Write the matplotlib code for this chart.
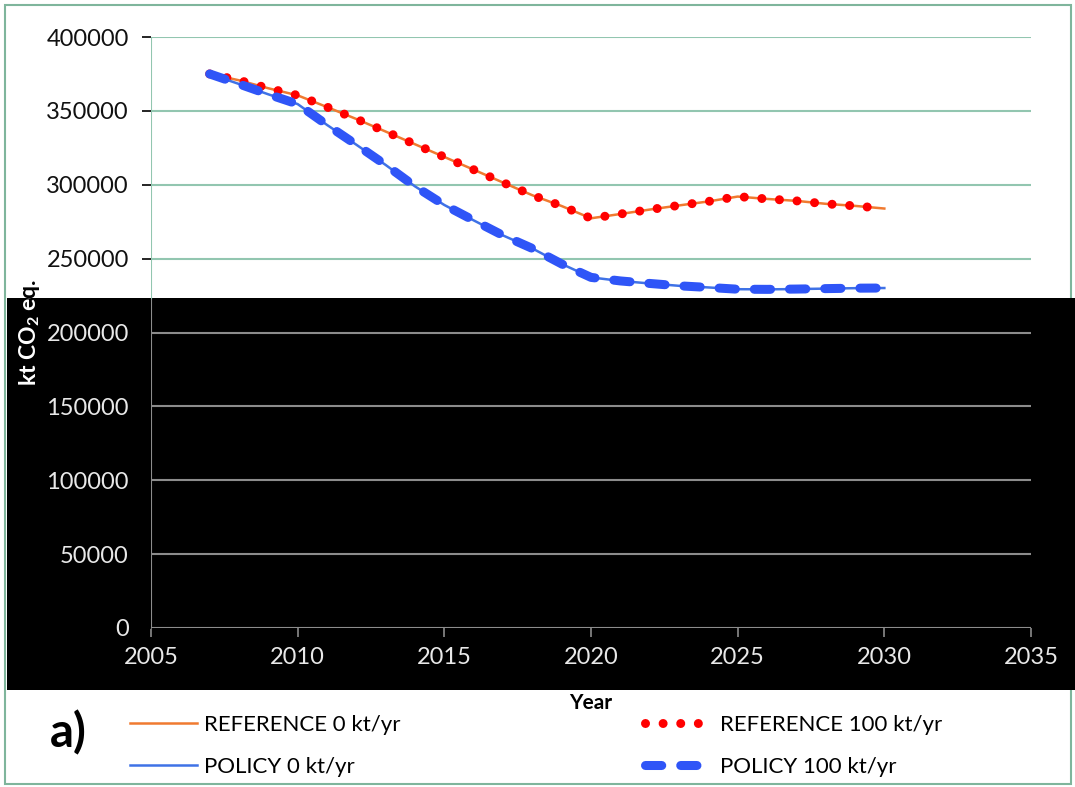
'''
Emissions pathways, REFERENCE vs POLICY (kt CO2 eq.)
'''
import matplotlib
matplotlib.use('Agg')
import matplotlib.pyplot as plt
from matplotlib.patches import Rectangle

plt.rcParams['font.family'] = ['Lato', 'DejaVu Sans']
plt.rcParams['mathtext.fontset'] = 'custom'
plt.rcParams['mathtext.rm'] = 'Lato'
plt.rcParams['mathtext.bf'] = 'Lato:bold'

years = list(range(2007, 2031))
reference_0 = [375000, 370700, 365300, 360500, 352600, 344500, 336000, 327400,
               318800, 310200, 301500, 292900, 285600, 277300, 280200, 283200,
               286000, 288700, 292000, 290400, 289100, 287100, 285700, 283900]
reference_100 = list(reference_0)
policy_0 = [375000, 368200, 361200, 354600, 340500, 327100, 313400, 298900,
            286300, 275900, 265700, 256900, 246400, 237300, 234900, 233200,
            231600, 230500, 229300, 229200, 229400, 229700, 230000, 230100]
policy_100 = list(policy_0)

yticks = [0, 50000, 100000, 150000, 200000, 250000, 300000, 350000, 400000]
xticks = [2005, 2010, 2015, 2020, 2025, 2030, 2035]

W, H = 1075, 787
green = '#92c6b0'
grey = '#8c8c8c'

fig = plt.figure(figsize=(W / 100, H / 100), dpi=100)
fig.patch.set_facecolor('white')

# outer frame and the black band across the lower half
fig.patches.append(Rectangle((5 / W, 1 - 784 / H), 1066 / W, 779 / H, transform=fig.transFigure,
                             fill=False, ec='#7fb59c', lw=1.5, zorder=-2))
band_y0, band_y1 = 1 - 690 / H, 1 - 298 / H
fig.patches.append(Rectangle((7 / W, band_y0), 1 - 7 / W, band_y1 - band_y0,
                             transform=fig.transFigure, fc='black', ec='none', zorder=-1))

ax_b, ax_t = 1 - 628 / H, 1 - 37 / H
ax = fig.add_axes([151 / W, ax_b, 880 / W, ax_t - ax_b])
ax.set_facecolor('none')
ax.set_xlim(2005, 2035)
ax.set_ylim(0, 400000)

frac = (band_y1 - ax_b) / (ax_t - ax_b)
cut = frac * 400000

for v in yticks:
    ax.axhline(v, color=green if v > cut else grey, lw=1.5, zorder=1)
ax.axvline(2005, ymin=0, ymax=frac, color=grey, lw=1.5, zorder=1)
ax.axvline(2005, ymin=frac, ymax=1, color=green, lw=1.5, zorder=1)
for s in ax.spines.values():
    s.set_visible(False)

ax.set_yticks(yticks)
ax.set_yticklabels([str(v) for v in yticks])
ax.set_xticks(xticks)
ax.set_xticklabels([str(v) for v in xticks])
ax.tick_params(axis='both', labelsize=17, direction='out', length=6.5, width=1.2)
ax.tick_params(axis='y', pad=9.5)
ax.tick_params(axis='x', pad=7, colors=grey, labelcolor='#e8e8e8')
for v, t, lab in zip(yticks, ax.yaxis.get_major_ticks(), ax.get_yticklabels()):
    t.tick1line.set_color(green if v > cut else grey)
    lab.set_color('#111111' if v > cut else '#e8e8e8')

l1, = ax.plot(years, reference_0, color='#f07a30', lw=1.8, zorder=3)
l2, = ax.plot(years, reference_100, color='#ff0000', lw=6.5, linestyle=(0, (0.001, 1.95)),
              dash_capstyle='round', zorder=4)
l3, = ax.plot(years, policy_0, color='#3f72e6', lw=1.8, zorder=5)
l4, = ax.plot(years, policy_100, color='#2f55f7', lw=6.5, linestyle=(0, (1.8, 2.1)),
              dash_capstyle='round', zorder=6)

# y axis title, black over white and white over black
white_part = Rectangle((0, band_y1), 1, 1 - band_y1, transform=fig.transFigure)
black_part = Rectangle((0, band_y0), 1, band_y1 - band_y0, transform=fig.transFigure)
for col, clip in [('black', white_part), ('white', black_part)]:
    t = fig.text(29 / W, 1 - 332 / H, r'kt CO$_\mathbf{2}$ eq.', rotation=90, ha='center',
                 va='center', fontsize=16.5, fontweight='bold', color=col)
    t.set_clip_path(clip)

fig.text(591 / W, 1 - 703 / H, 'Year', ha='center', va='center', fontsize=15, fontweight='bold')
fig.text(50 / W, 1 - 733 / H, 'a)', ha='left', va='center', fontsize=34, fontweight='bold')

fig.legend([l1, l3, l2, l4],
           ['REFERENCE 0 kt/yr', 'POLICY 0 kt/yr', 'REFERENCE 100 kt/yr', 'POLICY 100 kt/yr'],
           ncol=2, loc='upper left', bbox_to_anchor=(130 / W, 1 - 715 / H), frameon=False,
           fontsize=16, handlelength=3.0, handletextpad=0.35, columnspacing=11.0,
           labelspacing=0.98, borderpad=0, borderaxespad=0)

fig.savefig('out.png', dpi=100)
plt.close()
